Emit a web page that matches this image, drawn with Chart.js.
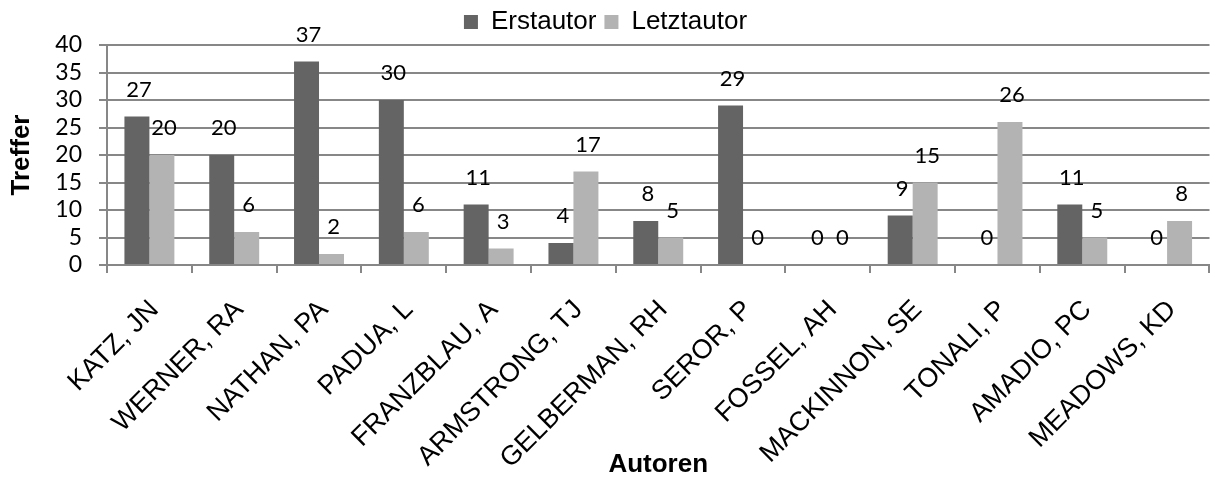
<!DOCTYPE html>
<html>
<head>
<meta charset="utf-8">
<script src="https://cdn.jsdelivr.net/npm/chart.js@4"></script>
<style>
  body { margin: 0; background: #fff; }
  #box { width: 1211px; height: 482px; }
</style>
</head>
<body>
<div id="box"><canvas id="grafikAutoren"></canvas></div>
<script>
// Treffer je Autor, getrennt nach Erst- und Letztautorschaft
const autoren = ['KATZ, JN', 'WERNER, RA', 'NATHAN, PA', 'PADUA, L', 'FRANZBLAU, A',
    'ARMSTRONG, TJ', 'GELBERMAN, RH', 'SEROR, P', 'FOSSEL, AH', 'MACKINNON, SE',
    'TONALI, P', 'AMADIO, PC', 'MEADOWS, KD'];
const erstautor  = [27, 20, 37, 30, 11, 4, 8, 29, 0, 9, 0, 11, 0];
const letztautor = [20, 6, 2, 6, 3, 17, 5, 0, 0, 15, 26, 5, 8];
const yTicks = [0, 5, 10, 15, 20, 25, 30, 35, 40];

const grau = '#878787';

// Zahlen über die Balken schreiben
const wertePlugin = {
    id: 'werte',
    afterDatasetsDraw(chart) {
        const ctx = chart.ctx;
        ctx.save();
        ctx.font = '22px Lato';
        ctx.fillStyle = '#000';
        ctx.textAlign = 'center';
        ctx.textBaseline = 'bottom';
        chart.data.datasets.forEach((ds, i) => {
            chart.getDatasetMeta(i).data.forEach((bar, j) => {
                ctx.fillText(ds.data[j], bar.x + 2, bar.y - 16);
            });
        });
        ctx.restore();
    }
};

const ctx = document.getElementById('grafikAutoren').getContext('2d');
const chart = new Chart(ctx, {
    type: 'bar',
    data: {
        labels: autoren,
        datasets: [{
            label: 'Erstautor',
            data: erstautor,
            backgroundColor: '#646464'
        }, {
            label: 'Letztautor',
            data: letztautor,
            backgroundColor: '#b3b3b3'
        }]
    },
    options: {
        responsive: true,
        maintainAspectRatio: false,
        animation: false,
        layout: { padding: { top: 1, right: 0, bottom: 0, left: 0 } },
        datasets: {
            bar: { categoryPercentage: 0.589, barPercentage: 1.0 }
        },
        plugins: {
            legend: {
                position: 'top',
                labels: {
                    font: { family: 'Liberation Sans', size: 26 },
                    color: '#000',
                    boxWidth: 14,
                    boxHeight: 14,
                    padding: 8
                }
            },
            tooltip: { enabled: false }
        },
        scales: {
            x: {
                grid: {
                    offset: true,
                    drawOnChartArea: false,
                    tickLength: 8,
                    color: grau,
                    lineWidth: 2
                },
                border: { color: grau, width: 2 },
                ticks: {
                    font: { family: 'Liberation Sans', size: 27 },
                    color: '#000',
                    minRotation: 45,
                    maxRotation: 45,
                    autoSkip: false,
                    labelOffset: 5,
                    padding: 21
                },
                title: {
                    display: true,
                    text: 'Autoren',
                    font: { family: 'Liberation Sans', size: 26, weight: 'bold' },
                    color: '#000',
                    padding: { top: 0, bottom: 2 }
                },
                afterFit(scale) { scale.height = 217; }
            },
            y: {
                min: 0,
                max: 40,
                afterBuildTicks(scale) {
                    scale.ticks = yTicks.map(v => ({ value: v }));
                },
                grid: {
                    tickLength: 8,
                    color: grau,
                    lineWidth: 2
                },
                border: { color: grau, width: 2 },
                ticks: {
                    font: { family: 'Lato', size: 23 },
                    color: '#000',
                    padding: 17,
                    autoSkip: false,
                    stepSize: 5
                },
                title: {
                    display: true,
                    text: 'Treffer',
                    font: { family: 'Liberation Sans', size: 26, weight: 'bold' },
                    color: '#000',
                    padding: { top: 6, bottom: 0 }
                },
                afterFit(scale) { scale.width = 107; }
            }
        }
    },
    plugins: [wertePlugin]
});
</script>
</body>
</html>
